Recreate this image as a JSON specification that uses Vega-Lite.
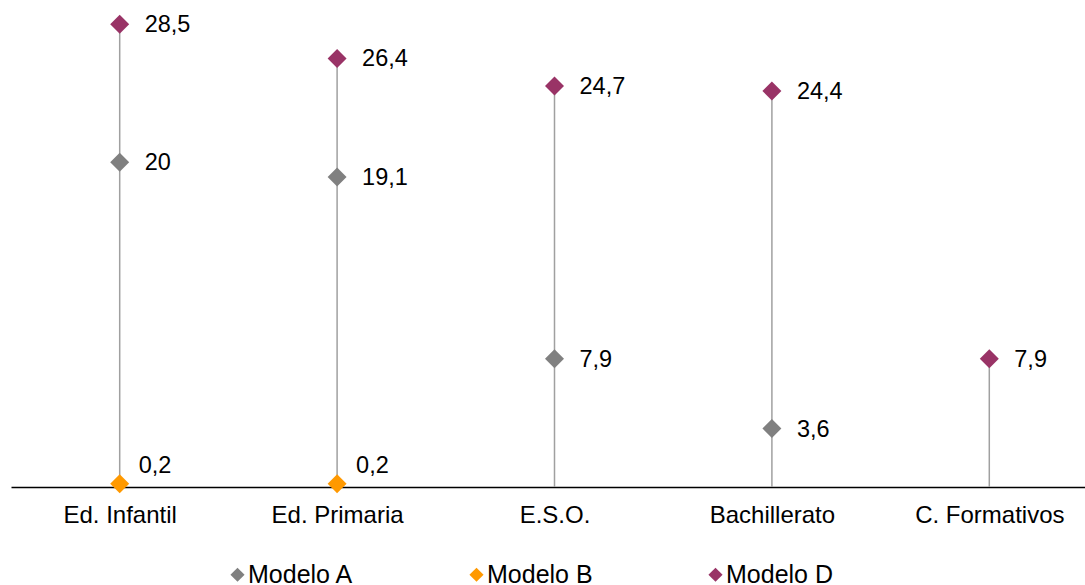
{
  "$schema": "https://vega.github.io/schema/vega-lite/v6.json",
  "width": 1087,
  "height": 487,
  "autosize": {"type": "none"},
  "padding": {"left": 11, "top": 0, "right": 0, "bottom": 98},
  "background": "white",
  "config": {
    "view": {"stroke": null},
    "font": "Liberation Sans",
    "locale": {"number": {"decimal": ",", "thousands": ".", "grouping": [3], "currency": ["", " €"]}}
  },
  "data": {
    "values": [
      {"nivel": "Ed. Infantil", "modelo": "Modelo A", "valor": 20},
      {"nivel": "Ed. Infantil", "modelo": "Modelo B", "valor": 0.2},
      {"nivel": "Ed. Infantil", "modelo": "Modelo D", "valor": 28.5},
      {"nivel": "Ed. Primaria", "modelo": "Modelo A", "valor": 19.1},
      {"nivel": "Ed. Primaria", "modelo": "Modelo B", "valor": 0.2},
      {"nivel": "Ed. Primaria", "modelo": "Modelo D", "valor": 26.4},
      {"nivel": "E.S.O.", "modelo": "Modelo A", "valor": 7.9},
      {"nivel": "E.S.O.", "modelo": "Modelo D", "valor": 24.7},
      {"nivel": "Bachillerato", "modelo": "Modelo A", "valor": 3.6},
      {"nivel": "Bachillerato", "modelo": "Modelo D", "valor": 24.4},
      {"nivel": "C. Formativos", "modelo": "Modelo D", "valor": 7.9}
    ]
  },
  "encoding": {
    "x": {
      "field": "nivel",
      "type": "nominal",
      "sort": ["Ed. Infantil", "Ed. Primaria", "E.S.O.", "Bachillerato", "C. Formativos"],
      "scale": {"type": "point", "padding": 0.5},
      "axis": {
        "title": null,
        "domainColor": "#000000",
        "domainWidth": 1.3,
        "ticks": false,
        "grid": false,
        "labelAngle": 0,
        "labelFontSize": 24,
        "labelColor": "#000000",
        "labelPadding": 16,
        "labelFont": "Liberation Sans"
      }
    }
  },
  "layer": [
    {
      "mark": {"type": "rule", "color": "#A0A0A0", "strokeWidth": 1.5},
      "encoding": {
        "y": {"aggregate": "max", "field": "valor", "type": "quantitative", "scale": {"domain": [0, 30], "nice": false}, "axis": null},
        "y2": {"datum": 0}
      }
    },
    {
      "mark": {"type": "point", "shape": "diamond", "filled": true, "size": 360, "opacity": 1, "clip": false},
      "encoding": {
        "y": {"field": "valor", "type": "quantitative", "scale": {"domain": [0, 30], "nice": false}, "axis": null},
        "color": {
          "field": "modelo",
          "type": "nominal",
          "scale": {"domain": ["Modelo A", "Modelo B", "Modelo D"], "range": ["#808080", "#FF9900", "#993366"]},
          "legend": {
            "title": null,
            "orient": "none",
            "direction": "horizontal",
            "legendX": 214,
            "legendY": 562,
            "symbolType": "diamond",
            "symbolSize": 200,
            "symbolStrokeWidth": 0,
            "labelFontSize": 25,
            "labelColor": "#000000",
            "labelFont": "Liberation Sans",
            "labelOffset": -2,
            "gridAlign": "all",
            "columnPadding": 109
          }
        }
      }
    },
    {
      "transform": [{"filter": "datum.valor >= 1"}],
      "mark": {"type": "text", "align": "left", "baseline": "middle", "dx": 25, "dy": 1, "fontSize": 23.5, "color": "#000000"},
      "encoding": {
        "y": {"field": "valor", "type": "quantitative", "scale": {"domain": [0, 30], "nice": false}},
        "text": {"field": "valor", "type": "quantitative", "format": ".1~f"}
      }
    },
    {
      "transform": [{"filter": "datum.valor < 1"}],
      "mark": {"type": "text", "align": "left", "baseline": "middle", "dx": 19, "dy": -18, "fontSize": 23.5, "color": "#000000"},
      "encoding": {
        "y": {"field": "valor", "type": "quantitative", "scale": {"domain": [0, 30], "nice": false}},
        "text": {"field": "valor", "type": "quantitative", "format": ".1~f"}
      }
    }
  ]
}
